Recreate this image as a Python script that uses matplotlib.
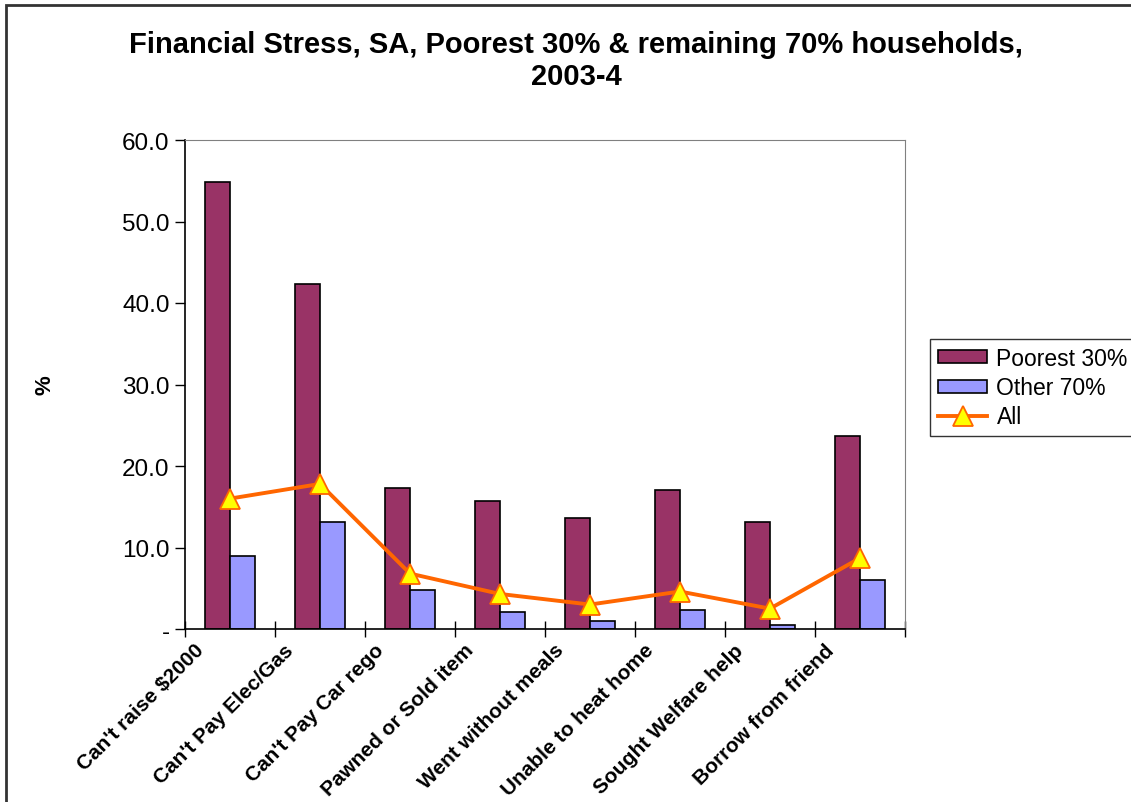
import numpy as np
import matplotlib.pyplot as plt
import matplotlib.transforms as mtransforms
from matplotlib.patches import Rectangle
from matplotlib.ticker import FuncFormatter

plt.rcParams['font.family'] = ['Liberation Sans', 'DejaVu Sans']

categories = ["Can't raise $2000", "Can't Pay Elec/Gas", "Can't Pay Car rego",
              "Pawned or Sold item", "Went without meals", "Unable to heat home",
              "Sought Welfare help", "Borrow from friend"]
poorest = [54.8, 42.3, 17.3, 15.7, 13.6, 17.0, 13.1, 23.7]
other = [8.9, 13.1, 4.8, 2.1, 1.0, 2.3, 0.5, 6.0]
all_hh = [16.0, 17.8, 6.8, 4.3, 3.0, 4.6, 2.5, 8.7]

x = np.arange(len(categories))
w = 0.28

fig = plt.figure(figsize=(11.31, 8.03), dpi=100)
ax = fig.add_axes([185 / 1131, 1 - 630 / 803, 720 / 1131, 489 / 803])

b1 = ax.bar(x - w / 2, poorest, w, color="#993366", edgecolor="black", linewidth=1.2,
            label="Poorest 30%", zorder=2)
b2 = ax.bar(x + w / 2, other, w, color="#9999FF", edgecolor="black", linewidth=1.2,
            label="Other 70%", zorder=2)
l1, = ax.plot(x, all_hh, color="#FF6600", linewidth=2.8, marker="^", markersize=15,
              markerfacecolor="#FFFF00", markeredgecolor="#FF6600", markeredgewidth=1.3,
              label="All", zorder=3)

ax.set_xlim(-0.5, len(categories) - 0.5)
ax.set_ylim(0, 60)
ax.set_yticks(np.arange(0, 61, 10))
ax.yaxis.set_major_formatter(FuncFormatter(lambda v, p: "-" if v == 0 else f"{v:.1f}"))
ax.tick_params(axis="y", direction="out", length=7, width=1, labelsize=17.5, pad=4)

ax.set_xticks(x)
ax.set_xticklabels(categories, rotation=45, ha="right", va="top",
                   rotation_mode="anchor", fontsize=15, fontweight="bold")
ax.tick_params(axis="x", which="major", length=0, pad=8)
ax.set_xticks(np.arange(-0.5, len(categories), 1), minor=True)
ax.tick_params(axis="x", which="minor", direction="inout", length=12, width=1)

# labels sit a bit left of the category centre in the original
shift = mtransforms.ScaledTranslation(-0.36, 0, fig.dpi_scale_trans)
for lab in ax.get_xticklabels():
    lab.set_transform(lab.get_transform() + shift)

for s in ["top", "right"]:
    ax.spines[s].set_color("#808080")
for s in ["left", "bottom"]:
    ax.spines[s].set_color("black")
    ax.spines[s].set_linewidth(1.2)

ax.set_ylabel("%", fontsize=16, fontweight="bold", labelpad=48)

fig.text(576 / 1131, 1 - 61 / 803, "Financial Stress, SA, Poorest 30% & remaining 70% households,\n2003-4",
         ha="center", va="center", fontsize=21, fontweight="bold", linespacing=1.15)

leg = fig.legend([b1, b2, l1], ["Poorest 30%", "Other 70%", "All"],
                 loc="upper left", bbox_to_anchor=(930 / 1131, 1 - 340 / 803),
                 borderaxespad=0, fontsize=16.5, frameon=True, fancybox=False,
                 edgecolor="black", handlelength=2.15, handleheight=0.5,
                 borderpad=0.35, labelspacing=0.27, handletextpad=0.4)
leg.get_frame().set_linewidth(1)

fig.patches.append(Rectangle((6 / 1131, -0.1), 1.2, 1 - 6 / 803 + 0.1,
                             transform=fig.transFigure, fill=False,
                             edgecolor="#333333", linewidth=2))

fig.savefig("out.png", dpi=100, facecolor="white")
